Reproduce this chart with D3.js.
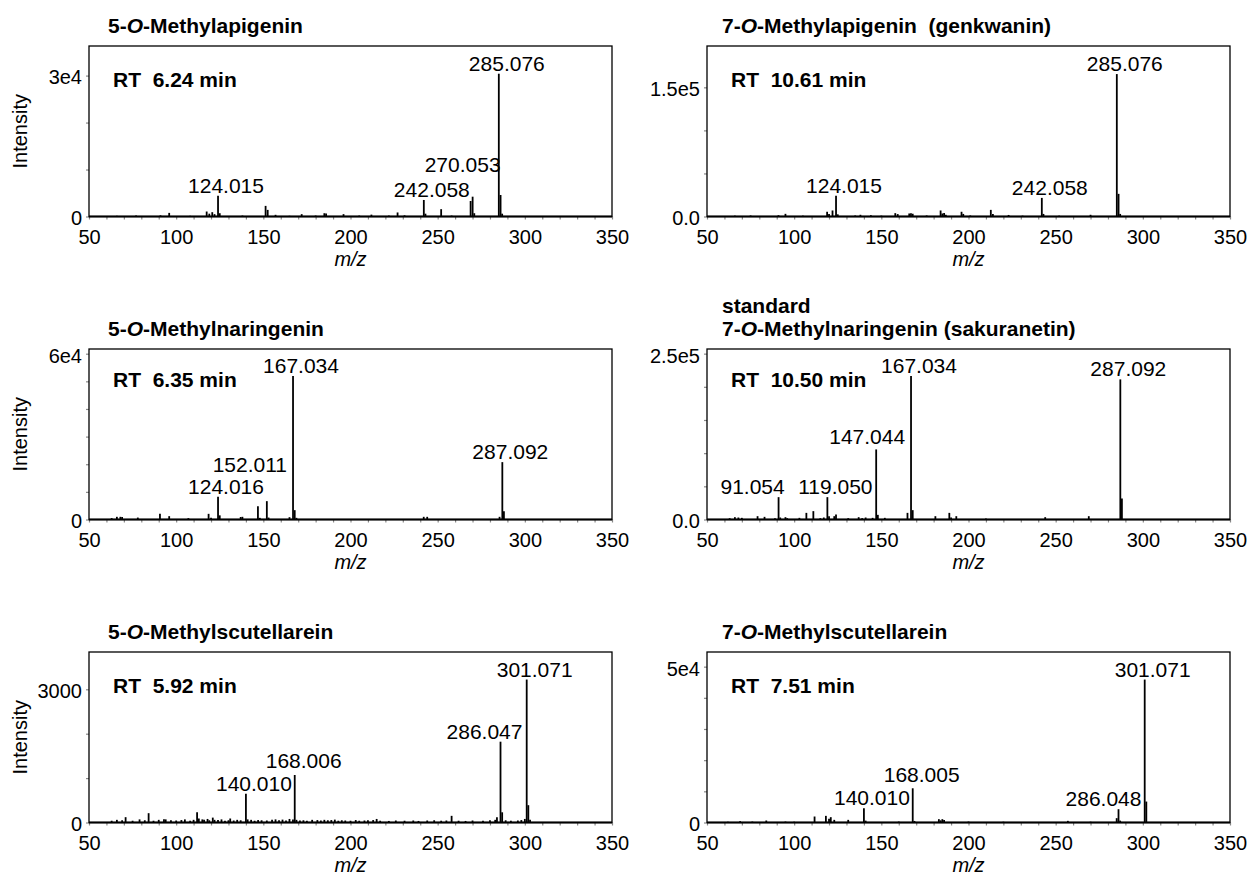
<!DOCTYPE html>
<html>
<head>
<meta charset="utf-8">
<script src="https://cdn.jsdelivr.net/npm/d3@7"></script>
<style>
  body { margin: 0; background: #fff; }
  svg { display: block; }
</style>
</head>
<body>
<script>
// ---- data ----
const titles = [
  "5-O-Methylapigenin",
  "7-O-Methylapigenin  (genkwanin)",
  "5-O-Methylnaringenin",
  "standard\n7-O-Methylnaringenin (sakuranetin)",
  "5-O-Methylscutellarein",
  "7-O-Methylscutellarein"
];
const rtLabels = ["RT  6.24 min", "RT  10.61 min", "RT  6.35 min", "RT  10.50 min", "RT  5.92 min", "RT  7.51 min"];

const mzDomain = [50, 350];
const xTicks = [50, 100, 150, 200, 250, 300, 350];

const yMax = [36300, 198000, 61700, 257000, 3840, 54700];
const yMajor = [[0, 30000], [0, 150000], [0, 60000], [0, 250000], [0, 3000], [0, 50000]];
const yMajorLabels = [["0", "3e4"], ["0.0", "1.5e5"], ["0", "6e4"], ["0.0", "2.5e5"], ["0", "3000"], ["0", "5e4"]];
const yMinorStep = [10000, 50000, 10000, 50000, 1000, 10000];

// [m/z, intensity]
const apigenin5 = [[66,150],[77,200],[91,250],[96,770],[108,150],[117.5,1060],[119,600],[120.7,920],[122,500],
  [124.015,4440],[125,700],[138,200],[151.3,2260],[152.5,1410],[157,360],[165,150],[172,500],[180,200],[185,700],
  [186,650],[196,500],[205,200],[212,400],[222,200],[227,860],[231,250],[242.058,3520],[243,600],[252,1560],[258,200],
  [268.9,3300],[270.053,4220],[271,700],[285.076,30400],[286.08,4580],[287,600]];
const genkwanin = [[66,1000],[75,1200],[91,1500],[95,3100],[105,1000],[118.9,5500],[120,3000],[122,7000],[124.015,24000],
  [125,2500],[135,1200],[138,2000],[144,1500],[150,1000],[158,3900],[159.4,2800],[166,3500],[167,3900],[168,3200],
  [176,1200],[184,7000],[185,3500],[186,4000],[187,2000],[196,5500],[197,3000],[201,1200],[212.8,7700],[214,3000],
  [223,1800],[231,1000],[242.058,21600],[243,3000],[252,1000],[270,2000],[285.076,165400],[286.08,26300],[287,3000]];
const naringenin5 = [[63,500],[66,970],[68,970],[69,900],[78,700],[90.7,2050],[96,1210],[107,500],[118.6,2050],[120,600],
  [124.016,8210],[125,1500],[137,900],[138,970],[146.9,4830],[148,600],[152.011,6640],[153,700],[165,840],[167.034,51900],
  [168,3380],[169,600],[242,970],[244,970],[285.5,970],[287.092,20760],[288,3020]];
const sakuranetin = [[63,2000],[66,3500],[68,3000],[70,2500],[79,5000],[83,4000],[89,2000],[91.054,33700],[92,3000],
  [95,3500],[96,2000],[103,2500],[107,10000],[111,12600],[115,2000],[117,3000],[119.05,33700],[120,5000],[123,5000],
  [124,7500],[131,2000],[137,3500],[139,2000],[141,3000],[145,2500],[147.044,105600],[148,7000],[152,2500],[165,10000],
  [167.034,216300],[168,14100],[181,5000],[189,10000],[190,3000],[193,5000],[210,1500],[244,3500],[269,5000],
  [287.092,211200],[288,31700]];
const scutellarein5 = [[63,40],[66,60],[69,50],[71,120],[75,40],[79,70],[82,50],[84.2,210],[87,40],[90,60],[93,75],[94,70],
  [97,50],[100,45],[103,55],[105,70],[108,40],[110,60],[112,230],[113,90],[115,70],[116,60],[118,80],[119,50],[121,110],
  [122,60],[124,55],[126,70],[128,40],[130,50],[131,90],[133,45],[135,60],[137,50],[140.01,645],[141,70],[143,60],[145,40],
  [147,55],[149,50],[152,45],[155,60],[157,70],[159,50],[161,65],[163,45],[165,80],[167,70],[168.006,1070],[169,60],
  [171,45],[173,50],[175,40],[178,60],[181,55],[183,45],[185,60],[187,50],[189,55],[191,65],[193,40],[195,50],[197,45],
  [200,40],[203,55],[205,40],[208,45],[210,50],[213,55],[215,80],[217,40],[222,35],[226,45],[231,40],[236,45],[239,35],
  [244,45],[248,50],[252,40],[255,45],[258,150],[262,40],[266,35],[270,45],[276,40],[280,50],[283,60],[284,120],
  [286.047,1820],[287,230],[289,50],[292,40],[296,45],[298,55],[300,80],[301.071,3220],[302,390],[303,60]];
const scutellarein7 = [[62,250],[69,430],[76,300],[84,640],[95,300],[100,250],[111.7,1920],[118.2,2130],[120,1200],
  [121,1710],[123,850],[131,850],[140.01,4590],[141,600],[160,300],[168.005,10980],[169,500],[183,1070],[184,700],
  [185,1070],[186,800],[200,300],[220,250],[257,530],[270,250],[285,1390],[286.048,4270],[287,600],[301.071,45860],
  [302,6720]];
const spectra = [apigenin5, genkwanin, naringenin5, sakuranetin, scutellarein5, scutellarein7];

const peakLabels = [
  ["124.015", "242.058", "270.053", "285.076"],
  ["124.015", "242.058", "285.076"],
  ["124.016", "152.011", "167.034", "287.092"],
  ["91.054", "119.050", "147.044", "167.034", "287.092"],
  ["140.010", "168.006", "286.047", "301.071"],
  ["140.010", "168.005", "286.048", "301.071"]
];

// ---- layout ----
const width = 1252, height = 875;
const colX = [89, 707], rowY = [46, 349, 652];
const pw = 523, ph = 170.5;
const titleDx = [19, 15];
const rtDy = [41, 38, 41];
const font = "'Liberation Sans', Arial, Helvetica, sans-serif";
// label offset from the peak top, in px: [dx of label centre, extra dy]
const labelNudge = {
  "0|270.053": [-10, -22],
  "2|152.011": [-17, -26],
  "3|147.044": [-9, -2],
  "3|91.054": [-26, 0],
  "4|286.047": [-16, 0],
  "4|168.006": [9, -4],
  "5|286.048": [-15, 0],
  "5|168.005": [9, -3]
};

const svg = d3.select("body").append("svg")
    .attr("width", width)
    .attr("height", height)
    .attr("font-family", font);

function writeTitle(sel, str) {
  const m = str.match(/^(.*?\d-)(O)(-.*)$/);
  if (!m) { sel.text(str); return; }
  sel.append("tspan").text(m[1]);
  sel.append("tspan").attr("font-style", "italic").text(m[2]);
  sel.append("tspan").text(m[3]);
}

spectra.forEach(function(peaks, i) {
  const col = i % 2, row = Math.floor(i / 2);
  const g = svg.append("g")
      .attr("transform", `translate(${colX[col]}, ${rowY[row]})`);

  const x = d3.scaleLinear().domain(mzDomain).range([0, pw]);
  const y = d3.scaleLinear().domain([0, yMax[i]]).range([ph, 0]);

  // x axis, minor ticks every 10
  g.append("g")
      .attr("transform", "translate(0," + ph + ")")
      .call(d3.axisBottom(x)
        .tickValues(d3.range(50, 351, 10))
        .tickSize(3)
        .tickPadding(10)
        .tickFormat(d => xTicks.includes(d) ? d : ""))
      .call(a => {
        a.select(".domain").remove();
        a.selectAll("line").attr("stroke", "#888").attr("stroke-width", 1.2);
        a.selectAll("text").attr("fill", "#000");
      })
      .attr("font-family", font)
      .attr("font-size", 20);

  // y axis
  const yVals = d3.range(0, yMax[i], yMinorStep[i]);
  g.append("g")
      .call(d3.axisLeft(y)
        .tickValues(yVals)
        .tickSize(3)
        .tickPadding(4)
        .tickFormat(d => {
          const k = yMajor[i].indexOf(d);
          return k >= 0 ? yMajorLabels[i][k] : "";
        }))
      .call(a => {
        a.select(".domain").remove();
        a.selectAll("line").attr("stroke", "#888").attr("stroke-width", 1.2);
        a.selectAll("text").attr("fill", "#000").attr("dy", "0.42em");
      })
      .attr("font-family", font)
      .attr("font-size", 20);

  // peaks
  g.append("g")
    .selectAll("line")
    .data(peaks)
    .join("line")
      .attr("x1", d => x(d[0]))
      .attr("x2", d => x(d[0]))
      .attr("y1", y(0))
      .attr("y2", d => y(d[1]))
      .attr("stroke", "#000")
      .attr("stroke-width", 1.8);

  // frame
  g.append("rect")
      .attr("width", pw)
      .attr("height", ph)
      .attr("fill", "none")
      .attr("stroke", "#000")
      .attr("stroke-width", 1.3);
  g.append("line")
      .attr("x1", 0).attr("x2", pw)
      .attr("y1", y(0)).attr("y2", y(0))
      .attr("stroke", "#000")
      .attr("stroke-width", 2.2);

  // peak labels
  peakLabels[i].forEach(function(lbl) {
    const pk = peaks.find(p => Math.abs(p[0] - +lbl) < 0.002);
    const nudge = labelNudge[i + "|" + lbl] || [8, 0];
    g.append("text")
        .attr("x", x(pk[0]) + nudge[0])
        .attr("y", y(pk[1]) - 3 + nudge[1])
        .attr("text-anchor", "middle")
        .attr("font-size", 21)
        .text(lbl);
  });

  // retention time
  g.append("text")
      .attr("x", 24)
      .attr("y", rtDy[row])
      .attr("font-size", 21)
      .attr("font-weight", "bold")
      .style("white-space", "pre")
      .text(rtLabels[i]);

  // title (may have two lines)
  const lines = titles[i].split("\n");
  lines.forEach(function(line, k) {
    const t = g.append("text")
        .attr("x", titleDx[col])
        .attr("y", -13 - (lines.length - 1 - k) * 23)
        .attr("font-size", 21)
        .attr("font-weight", "bold")
        .style("white-space", "pre");
    writeTitle(t, line);
  });

  // axis titles
  g.append("text")
      .attr("x", pw / 2)
      .attr("y", ph + 49)
      .attr("text-anchor", "middle")
      .attr("font-size", 20)
      .attr("font-style", "italic")
      .text("m/z");

  if (col === 0) {
    g.append("text")
        .attr("transform", `translate(${27 - colX[0]}, ${ph / 2}) rotate(-90)`)
        .attr("text-anchor", "middle")
        .attr("font-size", 20)
        .text("Intensity");
  }
});
</script>
</body>
</html>
